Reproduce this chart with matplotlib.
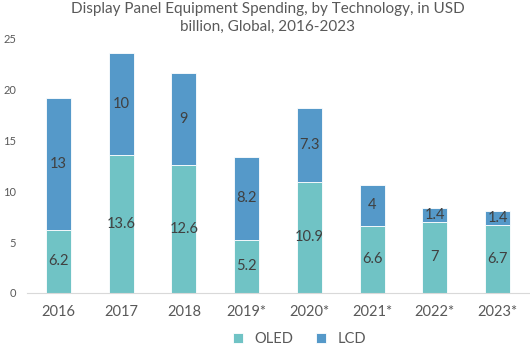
import matplotlib.pyplot as plt
import numpy as np

years = ["2016", "2017", "2018", "2019*", "2020*", "2021*", "2022*", "2023*"]
oled = [6.2, 13.6, 12.6, 5.2, 10.9, 6.6, 7, 6.7]
lcd = [13, 10, 9, 8.2, 7.3, 4, 1.4, 1.4]

oled_color = "#70C3C5"
lcd_color = "#5599C9"
text_color = "#404040"

plt.rcParams['font.family'] = ['Lato', 'DejaVu Sans']

fig = plt.figure(figsize=(5.3, 3.47), dpi=100)
ax = fig.add_axes([0.051, 0.156, 0.947, 0.732])

x = np.arange(len(years))
ax.bar(x, oled, width=0.4, color=oled_color, edgecolor="white", linewidth=0.6, label="OLED")
ax.bar(x, lcd, width=0.4, bottom=oled, color=lcd_color, edgecolor="white", linewidth=0.6, label="LCD")

for i in range(len(years)):
    ax.text(x[i], oled[i] / 2, f"{oled[i]:g}", ha="center", va="center", fontsize=10.5, color=text_color)
    ax.text(x[i], oled[i] + lcd[i] / 2, f"{lcd[i]:g}", ha="center", va="center", fontsize=10.5, color=text_color)

ax.set_xlim(-0.5, len(years) - 0.5)
ax.set_ylim(0, 25)
ax.set_yticks([0, 5, 10, 15, 20, 25])
ax.set_xticks(x)
ax.set_xticklabels(years)
ax.tick_params(axis="x", length=0, labelsize=10.5, labelcolor="#595959", pad=9)
ax.tick_params(axis="y", length=0, labelsize=8, labelcolor="#595959", pad=8)
for s in ["top", "right", "left"]:
    ax.spines[s].set_visible(False)
ax.spines["bottom"].set_color("#D9D9D9")

fig.suptitle("Display Panel Equipment Spending, by Technology, in USD\nbillion, Global, 2016-2023",
             x=0.505, y=0.995, fontsize=11, color="#595959", linespacing=1.4)

fig.legend(loc="lower center", bbox_to_anchor=(0.565, -0.035), ncol=2, frameon=False,
           fontsize=10.5, labelcolor="#595959", handlelength=0.7, handleheight=0.7, columnspacing=1.5)

fig.savefig("out.png", dpi=100)
